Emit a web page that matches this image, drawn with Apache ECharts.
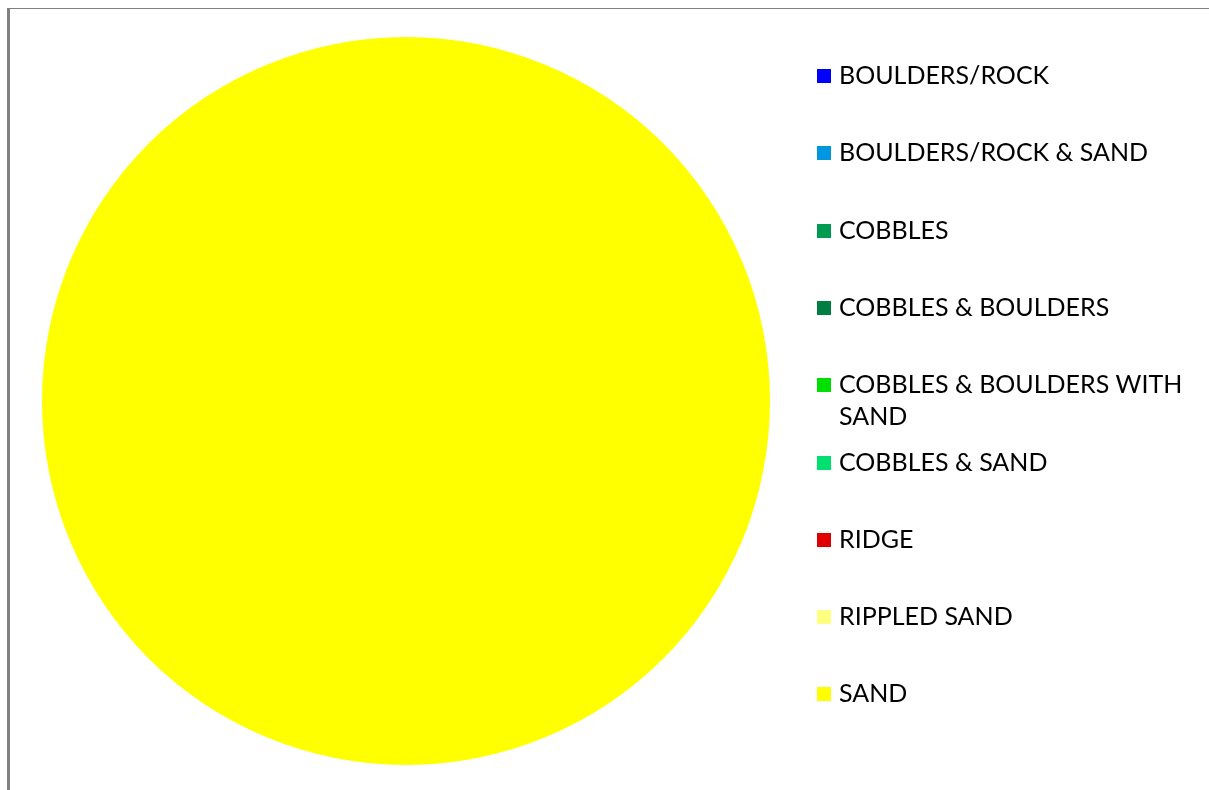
<!DOCTYPE html>
<html>
<head>
<meta charset="utf-8">
<script src="https://cdn.jsdelivr.net/npm/echarts@6/dist/echarts.min.js"></script>
<style>
  html, body { margin: 0; padding: 0; background: #ffffff; }
  #chart { width: 1209px; height: 790px; }
</style>
</head>
<body>
<div id="chart"></div>
<script>
// Seabed substrate classes and their share of the surveyed area
const categories = [
  'BOULDERS/ROCK',
  'BOULDERS/ROCK & SAND',
  'COBBLES',
  'COBBLES & BOULDERS',
  'COBBLES & BOULDERS WITH SAND',
  'COBBLES & SAND',
  'RIDGE',
  'RIPPLED SAND',
  'SAND'
];
const values = [0, 0, 0, 0, 0, 0, 0, 0, 100];
const colors = ['#0000ff', '#0096e0', '#009b50', '#007d41', '#00e000', '#00e070', '#e00000', '#ffff80', '#ffff00'];

// Legend labels that wrap onto a second line; the leading blank line keeps
// the swatch level with the first visible line of text
const legendLabels = {
  'COBBLES & BOULDERS WITH SAND': '\nCOBBLES & BOULDERS WITH\nSAND'
};

const FONT = 'Lato, "Open Sans", sans-serif';
const LINE_H = 32;
const LEGEND_FIRST_Y = 76;
const LEGEND_STEP = 77.3;
const ICON = 14;

const legends = categories.map((name, i) => {
  const label = legendLabels[name] || name;
  const lines = label.split('\n').length;
  return {
    show: true,
    orient: 'vertical',
    left: 817,
    top: Math.round(LEGEND_FIRST_Y + i * LEGEND_STEP - (lines * LINE_H) / 2),
    padding: 0,
    itemWidth: ICON,
    itemHeight: ICON,
    icon: 'rect',
    selectedMode: false,
    data: [name],
    formatter: (n) => legendLabels[n] || n,
    textStyle: {
      fontFamily: FONT,
      fontSize: 25,
      color: '#000000',
      lineHeight: LINE_H,
      padding: [0, 0, 0, 3]
    }
  };
});

const chart = echarts.init(document.getElementById('chart'), null, { renderer: 'canvas' });
chart.setOption({
  backgroundColor: '#ffffff',
  animation: false,
  color: colors,
  legend: legends,
  graphic: [
    { type: 'rect', shape: { x: 7, y: 8, width: 1202, height: 1 }, style: { fill: '#808080' }, silent: true },
    { type: 'rect', shape: { x: 7, y: 8, width: 3, height: 782 }, style: { fill: '#808080' }, silent: true }
  ],
  series: [{
    type: 'pie',
    center: [406, 401],
    radius: [0, 364],
    startAngle: 90,
    clockwise: true,
    label: { show: false },
    labelLine: { show: false },
    emphasis: { disabled: true },
    itemStyle: { borderWidth: 0 },
    data: categories.map((name, i) => ({ name, value: values[i] }))
  }]
});
</script>
</body>
</html>
